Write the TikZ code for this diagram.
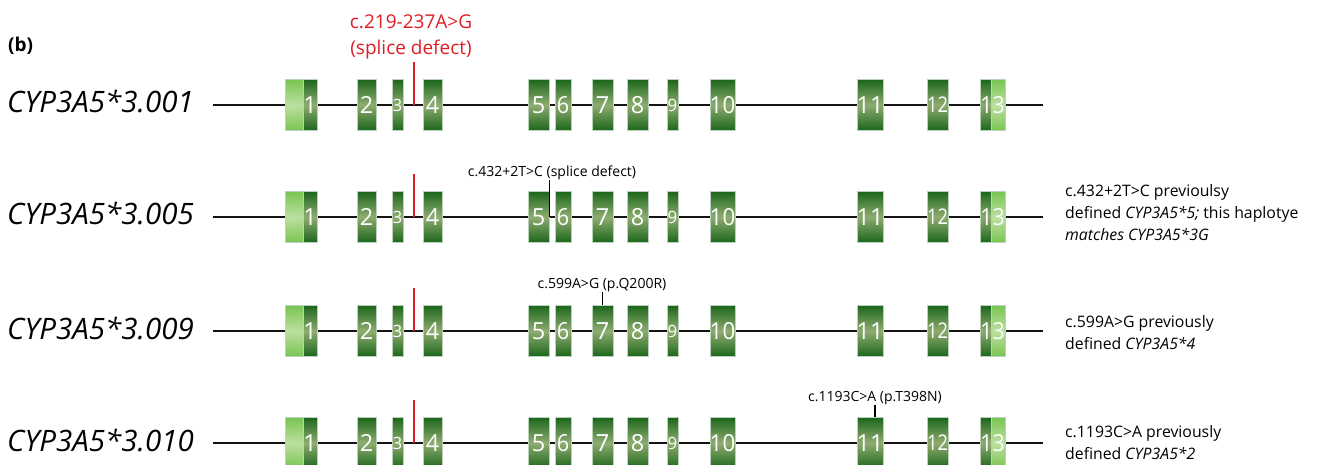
\documentclass[tikz,border=0pt]{standalone}
\usepackage{fontspec}
\setmainfont{Open Sans}
\usetikzlibrary{calc}
\definecolor{dkg}{RGB}{28,102,28}
\definecolor{mdg}{RGB}{142,172,112}
\definecolor{lkg}{RGB}{122,196,82}
\definecolor{lmg}{RGB}{188,224,160}
\definecolor{mutred}{RGB}{222,30,38}
\tikzset{
  exon/.style={rectangle, inner sep=0pt, minimum height=51pt, draw=white!70!dkg, line width=0.5pt,
    top color=dkg, bottom color=dkg, middle color=mdg, text=white, font=\fontsize{23.5}{23.5}\selectfont},
  utr/.style={exon, top color=lkg, bottom color=lkg, middle color=lmg},
  numtxt/.style={inner sep=0pt, text=white, font=\fontsize{23.5}{23.5}\selectfont},
  geneline/.style={line width=2.8pt, black!92},
  redline/.style={line width=2pt, mutred},
  mutline/.style={line width=1.4pt, black},
  rowlab/.style={inner sep=0pt, font=\fontsize{29.5}{29.5}\selectfont\itshape},
  mutlab/.style={inner sep=0pt, font=\fontsize{14}{14}\selectfont},
  note/.style={inner sep=0pt, align=left, font=\fontsize{15.8}{22}\selectfont},
}
\newcommand\generow[2]{%
  \coordinate (s#2) at (213,#1);
  \coordinate (t#2) at (1043,#1);
  \draw[geneline] (s#2) -- (t#2);
  \node[utr, minimum width=18pt] (u#2-1) at (294,#1) {};
  \node[exon, minimum width=14pt] (e#2-1) at (310,#1) {\makebox[0pt]{1}};
  \foreach \n/\a/\b/\sx/\sy in {2/357/376/1/1, 3/392/403/0.72/0.72, 4/423/442/1/1,
      5/528/549/1/1, 6/555/571/0.92/1, 7/592/613/1/1, 8/627/648/1/1, 9/667/678/0.72/0.72,
      10/710/735/0.95/1, 11/857/883/1/1, 12/927/948/0.78/0.92}{
    \pgfmathsetmacro\w{\b-\a}\pgfmathsetmacro\c{(\a+\b)/2}
    \node[exon, minimum width=\w pt] (e#2-\n) at (\c,#1) {\makebox[0pt]{\scalebox{\sx}[\sy]{\n}}};
  }
  \node[exon, minimum width=11pt] (d#2-13) at (985.5,#1) {};
  \node[utr, minimum width=14pt] (u#2-13) at (998,#1) {};
  \node[numtxt] (e#2-13) at (992.5,#1) {\scalebox{0.9}[1]{13}};
  \coordinate (r#2) at (414,#1);
  \coordinate (rt#2) at (414,#1-43);
  \draw[redline] (r#2) -- (rt#2);
}
\begin{document}
\begin{tikzpicture}[x=1pt,y=-1pt]
\useasboundingbox (0,0) rectangle (1323,465);
\fill[white] (0,0) rectangle (1323,465);
\node[inner sep=0pt, anchor=base west, font=\fontsize{19}{19}\selectfont\bfseries] (b) at (8,52) {(b)};
\node[inner sep=0pt, align=center, anchor=south, text=mutred, font=\fontsize{19}{26}\selectfont] (redlab) at (411,59) {c.219-237A>G\\(splice defect)};
\generow{105}{1}
\generow{217}{2}
\generow{331}{3}
\generow{443}{4}
\node[rowlab, anchor=base west] (n1) at (7,113) {CYP3A5*3.001};
\node[rowlab, anchor=base west] (n2) at (7,225) {CYP3A5*3.005};
\node[rowlab, anchor=base west] (n3) at (7,339) {CYP3A5*3.009};
\node[rowlab, anchor=base west] (n4) at (7,451) {CYP3A5*3.010};
\node[mutlab] (m2) at (552,173) {c.432+2T>C (splice defect)};
\draw[mutline] (m2.south -| e2-5.east) -- (e2-5.east);
\node[mutlab] (m3) at (602,285) {c.599A>G (p.Q200R)};
\draw[mutline] (m3.south -| e3-7.north) -- (e3-7.north);
\node[mutlab] (m4) at (875,398) {c.1193C>A (p.T398N)};
\draw[mutline] (m4.south) -- (m4.south |- e4-11.north);
\node[note, anchor=north west] (k2) at (1065,184) {c.432+2T>C previoulsy\\defined \textit{CYP3A5*5;} this haplotye\\\textit{matches CYP3A5*3G}};
\node[note, anchor=north west] (k3) at (1065,315) {c.599A>G previously\\defined \textit{CYP3A5*4}};
\node[note, anchor=north west] (k4) at (1065,425) {c.1193C>A previously\\defined \textit{CYP3A5*2}};
\end{tikzpicture}
\end{document}
